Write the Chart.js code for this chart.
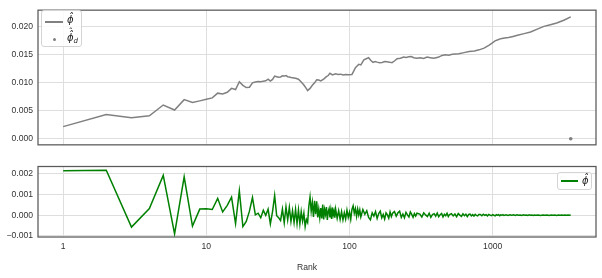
<!DOCTYPE html>
<html>
<head>
<meta charset="utf-8">
<script src="https://cdn.jsdelivr.net/npm/chart.js@4.4.1/dist/chart.umd.min.js"></script>
<style>
  html, body { margin: 0; padding: 0; background: #fff; }
  #wrap { position: relative; width: 602px; height: 278px; overflow: hidden; }
  canvas { position: absolute; left: 0; }
  .legend { position: absolute; border: 1px solid #d4d4d4; border-radius: 3px; background: rgba(255,255,255,0.85); box-sizing: border-box; }
  .swatch { position: absolute; height: 2px; }
  .dot { position: absolute; width: 3.5px; height: 3.5px; border-radius: 50%; background: #808080; }
  .lbl { position: absolute; font-family: 'DejaVu Sans', sans-serif; font-style: italic; font-size: 10px; color: #222; line-height: 14px; white-space: nowrap; }
  .lbl sub { font-size: 7px; vertical-align: -2px; }
  .dh { position: relative; display: inline-block; }
  .hat { position: absolute; left: 1px; right: 0; top: -6px; text-align: center; font-style: normal; font-size: 9px; }
  #xlabel { position: absolute; left: 257px; width: 100px; top: 261px; text-align: center; font-family: 'Liberation Sans', Arial, sans-serif; font-size: 8.6px; color: #333; line-height: 12px; }
</style>
</head>
<body>
<div id="wrap">
  <canvas id="topChart" width="602" height="155" style="top:0"></canvas>
  <canvas id="bottomChart" width="602" height="123" style="top:155px"></canvas>

  <div class="legend" style="left:41px;top:10px;width:41px;height:37px">
    <span class="swatch" style="left:3px;top:10px;width:17.5px;background:#808080"></span>
    <span class="lbl" style="left:25px;top:2px">ϕ̂</span>
    <span class="dot" style="left:10.5px;top:26.5px"></span>
    <span class="lbl" style="left:25px;top:20px"><span class="dh">ϕ̂<span class="hat">ˆ</span></span><sub>d</sub></span>
  </div>
  <div class="legend" style="left:557px;top:171.5px;width:35px;height:18px">
    <span class="swatch" style="left:2.5px;top:7.5px;width:17.5px;background:#008000"></span>
    <span class="lbl" style="left:24px;top:1px">ϕ̂</span>
  </div>
  <div id="xlabel">Rank</div>
</div>

<script>
// Top panel: phi by rank
const phiRank = [1, 2, 3, 4, 5, 6, 7, 8, 9, 10, 11, 12, 13, 14, 15, 16, 17, 18, 19, 20,
  21, 22, 23, 24, 25, 26, 27, 28, 29, 30, 31, 32, 33, 34, 35, 36, 37, 38, 39, 40,
  42, 44, 46, 48, 50, 51, 53, 55, 57, 59, 61, 63, 66, 69, 71, 73, 76, 80, 83, 87,
  90, 94, 98, 104, 107, 110, 113, 116, 120, 126, 131, 136, 141, 146, 151, 156, 162, 169, 176, 183,
  190, 198, 206, 215, 227, 239, 249, 259, 270, 281, 296, 312, 330, 348, 367, 387, 403, 420, 443, 466,
  494, 522, 551, 580, 630, 685, 745, 805, 870, 940, 990, 1040, 1090, 1140, 1210, 1290, 1390, 1490, 1660, 1840,
  2050, 2280, 2530, 2800, 3140, 3510];
const phiValue = [0.00216, 0.00434, 0.00377, 0.00410, 0.00603, 0.00513, 0.00699, 0.00647, 0.00677, 0.00705,
  0.00730, 0.00815, 0.00800, 0.00830, 0.00900, 0.00880, 0.01020, 0.00955, 0.00915, 0.00920,
  0.01000, 0.01015, 0.01025, 0.01020, 0.01030, 0.01035, 0.01065, 0.01030, 0.01060, 0.01120,
  0.01110, 0.01100, 0.01105, 0.01125, 0.01120, 0.01130, 0.01110, 0.01105, 0.01095, 0.01090,
  0.01080, 0.01065, 0.01015, 0.00960, 0.00895, 0.00860, 0.00900, 0.00955, 0.01000, 0.01055,
  0.01050, 0.01035, 0.01065, 0.01110, 0.01130, 0.01170, 0.01140, 0.01160, 0.01150, 0.01155,
  0.01140, 0.01150, 0.01145, 0.01150, 0.01210, 0.01270, 0.01300, 0.01330, 0.01320, 0.01410,
  0.01430, 0.01450, 0.01400, 0.01365, 0.01380, 0.01370, 0.01360, 0.01365, 0.01380, 0.01375,
  0.01370, 0.01360, 0.01390, 0.01430, 0.01440, 0.01460, 0.01455, 0.01465, 0.01470, 0.01450,
  0.01440, 0.01450, 0.01435, 0.01460, 0.01450, 0.01440, 0.01450, 0.01460, 0.01490, 0.01500,
  0.01495, 0.01510, 0.01515, 0.01520, 0.01540, 0.01560, 0.01570, 0.01590, 0.01620, 0.01670,
  0.01710, 0.01750, 0.01770, 0.01790, 0.01800, 0.01810, 0.01830, 0.01850, 0.01880, 0.01910,
  0.01960, 0.02010, 0.02040, 0.02070, 0.02120, 0.02180];

// single phi_d point
const phiDRank = [3510];
const phiDValue = [0.0];

// Bottom panel: rank to rank change
const diffRank = [1, 2, 3, 4, 5, 6, 7, 8, 9, 10, 11, 12, 13, 14, 15, 16, 17, 18, 19, 20,
  21, 22, 23, 24, 25, 26, 27, 28, 29, 30, 31, 32, 33, 34, 35, 36, 37, 38, 39, 40,
  41, 42, 43, 44, 45, 46, 47, 48, 49, 50, 51, 52, 53, 54, 55, 56, 57, 58, 59, 60, 61, 62,
  63, 64, 65, 66, 67, 68, 69, 70, 71, 72, 73, 74, 75, 76, 77, 78, 79, 80,
  82, 84, 86, 88, 90, 92, 94, 96, 98, 100, 102, 104, 106, 108, 110, 112, 114, 116, 118, 120,
  124, 128, 132, 136, 140, 144, 148, 152, 156, 160, 164, 168, 172, 176, 180, 184, 188, 192, 196, 200,
  206, 212, 218, 224, 230, 236, 242, 248, 254, 260, 266, 272, 278, 284, 290, 296,
  310, 320, 330, 340, 350, 360, 370, 380, 390, 400, 410, 420, 430, 440, 450, 460, 470, 480, 490, 500,
  515, 530, 545, 560, 575, 590, 605, 620, 635, 650, 665, 680, 695, 710, 725, 740, 755, 770, 785, 800,
  820, 840, 860, 880, 900, 920, 940, 960, 980, 1000, 1020, 1040, 1060, 1080, 1100, 1120, 1140, 1160, 1180, 1200,
  1240, 1280, 1320, 1360, 1400, 1440, 1480, 1520, 1560, 1600, 1640, 1680, 1720, 1760, 1800, 1840, 1880, 1920, 1960, 2000,
  2080, 2160, 2240, 2320, 2400, 2480, 2560, 2640, 2720, 2800, 2880, 2960, 3040, 3120, 3200, 3280, 3360, 3440, 3510];
const diffValue = [0.00216, 0.00218, -0.00057, 0.00033, 0.00193, -0.00090, 0.00186, -0.00052, 0.00030, 0.00032,
  0.00028, 0.00082, 0.00016, 0.00048, 0.00088, -0.00040, 0.00118, -0.00055, -0.00030, 0.00020,
  0.00086, 0.00002, 0.00010, -0.00012, 0.00024, 0.00000, 0.00030, -0.00042, 0.00018, 0.00096,
  -0.00002, -0.00012, -0.00025, 0.00030, -0.00036, 0.00040, -0.00022, 0.00038, -0.00030, 0.00022,
  -0.00035, 0.00028, -0.00040, 0.00025, -0.00042, 0.00018, -0.00028, 0.00010, -0.00055, -0.00020,
  -0.00035, 0.00045, 0.00088, 0.00020, 0.00062, -0.00008, 0.00070, 0.00005, 0.00068, -0.00010,
  0.00030, -0.00012,
  0.00035, -0.00015, 0.00052, -0.00020, 0.00028, 0.00005, 0.00040, -0.00022, 0.00018, 0.00032,
  -0.00010, 0.00025, -0.00018, 0.00038, 0.00002, 0.00020, -0.00012, 0.00030,
  -0.00015, 0.00022, -0.00020, 0.00018, -0.00022, 0.00012, -0.00018, 0.00025, -0.00010, 0.00015,
  -0.00020, 0.00028, 0.00045, 0.00010, 0.00032, -0.00005, 0.00030, 0.00002, 0.00026, -0.00008,
  0.00028, 0.00005, 0.00022, -0.00010, -0.00022, 0.00012, -0.00004, 0.00018, -0.00015, 0.00008,
  0.00020, -0.00012, 0.00004, -0.00018, 0.00012, 0.00002, -0.00014, 0.00016, -0.00006, 0.00010,
  0.00018, -0.00004, 0.00012, 0.00020, -0.00010, 0.00006, -0.00012, 0.00014, 0.00002, -0.00008,
  0.00016, 0.00004, -0.00010, 0.00008, -0.00004, 0.00010,
  0.00006, -0.00008, 0.00012, 0.00002, -0.00006, 0.00010, -0.00010, 0.00004, 0.00008, -0.00004,
  0.00011, -0.00007, 0.00003, 0.00009, -0.00008, 0.00005, -0.00002, 0.00010, -0.00006, 0.00004,
  0.00008, -0.00003, 0.00006, -0.00007, 0.00009, 0.00001, -0.00005, 0.00007, -0.00002, 0.00005,
  -0.00006, 0.00004, 0.00006, -0.00003, 0.00003, -0.00004, 0.00005, 0.00000, -0.00003, 0.00004,
  0.00004, -0.00002, 0.00005, 0.00000, 0.00003, -0.00003, 0.00004, 0.00001, -0.00002, 0.00003,
  0.00000, -0.00003, 0.00003, 0.00001, 0.00003, -0.00002, 0.00002, 0.00000, 0.00003, -0.00001,
  0.00002, -0.00001, 0.00002, 0.00000, 0.00002, -0.00001, 0.00002, 0.00000, 0.00001, -0.00001,
  0.00002, 0.00000, 0.00001, -0.00001, 0.00002, 0.00000, 0.00001, -0.00001, 0.00001, 0.00000,
  0.00001, -0.00001, 0.00001, 0.00000, 0.00001, -0.00001, 0.00001, 0.00000, 0.00001, -0.00001,
  0.00001, 0.00000, 0.00001, 0.00000, 0.00001, 0.00000, 0.00001, 0.00000, 0.00001];

// Tick labels
const xTicks = [1, 10, 100, 1000];
const topYTicks = [0, 0.005, 0.01, 0.015, 0.02];
const bottomYTicks = [-0.001, 0, 0.001, 0.002];

Chart.defaults.font.family = "'Liberation Sans', Arial, sans-serif";
Chart.defaults.font.size = 8.6;
Chart.defaults.color = '#333';

const gridColor = '#dedede';

function toPoints(xs, ys) {
    return xs.map((x, i) => ({ x: x, y: ys[i] }));
}

function fmtY(v) {
    return v.toFixed(3).replace('-', '\u2212');
}

// full frame round the plot area
const framePlugin = {
    id: 'frame',
    afterDatasetsDraw(chart) {
        const a = chart.chartArea;
        const ctx = chart.ctx;
        ctx.save();
        ctx.strokeStyle = '#595959';
        ctx.lineWidth = 1.25;
        ctx.strokeRect(a.left, a.top, a.right - a.left, a.bottom - a.top);
        ctx.restore();
    }
};

function xScale(showLabels, height) {
    return {
        type: 'logarithmic',
        min: 0.667,
        max: 5270,
        afterBuildTicks: s => { s.ticks = xTicks.map(v => ({ value: v })); },
        afterFit: s => { s.height = height; },
        grid: { color: gridColor, drawTicks: false },
        border: { display: false },
        ticks: {
            display: showLabels,
            autoSkip: false,
            maxRotation: 0,
            padding: 4,
            callback: v => String(v)
        }
    };
}

function yScale(min, max, ticks) {
    return {
        min: min,
        max: max,
        afterBuildTicks: s => { s.ticks = ticks.map(v => ({ value: v })); },
        afterFit: s => { s.width = 38; },
        grid: { color: gridColor, drawTicks: false },
        border: { display: false },
        ticks: { padding: 5, callback: v => fmtY(v) }
    };
}

const topChart = new Chart(document.getElementById('topChart'), {
    type: 'line',
    data: {
        datasets: [{
            label: 'phi',
            data: toPoints(phiRank, phiValue),
            borderColor: '#808080',
            borderWidth: 1.5,
            pointRadius: 0,
            tension: 0,
            fill: false
        }, {
            label: 'phi_d',
            type: 'scatter',
            data: toPoints(phiDRank, phiDValue),
            backgroundColor: '#808080',
            borderWidth: 0,
            pointRadius: 1.8,
            showLine: false
        }]
    },
    options: {
        responsive: false,
        animation: false,
        layout: { padding: { top: 5, right: 6, bottom: 0, left: 0 } },
        plugins: { legend: { display: false }, tooltip: { enabled: false } },
        scales: {
            x: xScale(false, 9),
            y: yScale(-0.0011, 0.0230, topYTicks)
        }
    },
    plugins: [framePlugin]
});

const bottomChart = new Chart(document.getElementById('bottomChart'), {
    type: 'line',
    data: {
        datasets: [{
            label: 'phi diff',
            data: toPoints(diffRank, diffValue),
            borderColor: '#008000',
            borderWidth: 1.5,
            pointRadius: 0,
            tension: 0,
            fill: false
        }]
    },
    options: {
        responsive: false,
        animation: false,
        layout: { padding: { top: 11.5, right: 6, bottom: 0, left: 0 } },
        plugins: { legend: { display: false }, tooltip: { enabled: false } },
        scales: {
            x: xScale(true, 41),
            y: yScale(-0.00105, 0.00236, bottomYTicks)
        }
    },
    plugins: [framePlugin]
});
</script>
</body>
</html>
